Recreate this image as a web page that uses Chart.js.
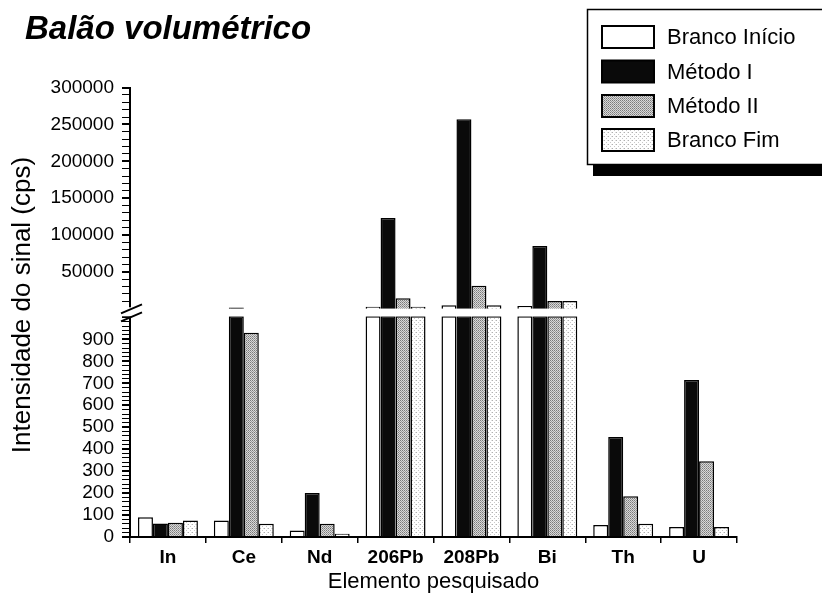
<!DOCTYPE html>
<html>
<head>
<meta charset="utf-8">
<script src="https://cdn.jsdelivr.net/npm/chart.js@4.4.0/dist/chart.umd.min.js"></script>
<style>
html, body { margin: 0; padding: 0; background: #fff; }
#wrap { width: 822px; height: 599px; }
</style>
</head>
<body>
<div id="wrap"><canvas id="chart"></canvas></div>
<script>
// valores (cps)
var categories = ['In', 'Ce', 'Nd', '206Pb', '208Pb', 'Bi', 'Th', 'U'];
var brancoInicio = [90, 75, 30, 2500, 4500, 3500, 55, 45];
var metodoI = [62, 1500, 200, 123000, 257000, 85000, 455, 715];
var metodoII = [65, 930, 60, 14000, 31000, 10500, 185, 345];
var brancoFim = [75, 60, 15, 2500, 4500, 10500, 60, 45];
var seriesNames = ['Branco Início', 'Método I', 'Método II', 'Branco Fim'];
var lowTicks = [0, 100, 200, 300, 400, 500, 600, 700, 800, 900];
var highTicks = [50000, 100000, 150000, 200000, 250000, 300000];

var lowMax = 1005;
var font = 'Liberation Sans';

function minorTicks(from, to, step) {
    var list = [];
    for (var v = from; v <= to; v += step) list.push({ value: v });
    return list;
}

function makePattern(size, bg, dots) {
    var c = document.createElement('canvas');
    c.width = size; c.height = size;
    var g = c.getContext('2d');
    g.fillStyle = bg;
    g.fillRect(0, 0, size, size);
    dots.forEach(function(d) {
        g.fillStyle = d[2];
        g.fillRect(d[0], d[1], 1, 1);
    });
    return g.createPattern(c, 'repeat');
}

var fills = [
    '#ffffff',
    '#0a0a0a',
    makePattern(2, '#d8d8d8', [[0, 0, '#7a7a7a'], [1, 1, '#9a9a9a']]),
    makePattern(4, '#ffffff', [[0, 0, '#b0b0b0'], [2, 2, '#c8c8c8'], [3, 0, '#e0e0e0']])
];
var values = [brancoInicio, metodoI, metodoII, brancoFim];

var datasets = [];
values.forEach(function(vals, i) {
    datasets.push({
        label: seriesNames[i],
        data: vals.map(function(v) { return Math.min(v, lowMax); }),
        yAxisID: 'yLow',
        stack: 's' + i,
        backgroundColor: fills[i],
        borderColor: '#000',
        borderWidth: 1.5
    });
});
values.forEach(function(vals, i) {
    datasets.push({
        label: seriesNames[i] + ' (alto)',
        data: vals.map(function(v) { return v > lowMax ? v : null; }),
        yAxisID: 'yHigh',
        stack: 's' + i,
        backgroundColor: fills[i],
        borderColor: '#000',
        borderWidth: 1.5
    });
});

var legendBox = {
    id: 'legendBox',
    afterDraw: function(chart) {
        var ctx = chart.ctx;
        ctx.save();
        ctx.fillStyle = '#000';
        ctx.fillRect(593, 165, 240, 11);
        ctx.fillStyle = '#fff';
        ctx.fillRect(587, 9, 250, 156);
        ctx.strokeStyle = '#000';
        ctx.lineWidth = 1.5;
        ctx.strokeRect(587.5, 9.5, 250, 155);
        var rows = [37, 71.5, 106, 140];
        chart.data.datasets.forEach(function(ds, i) {
            if (ds.yAxisID !== 'yLow') return;
            var y = rows[i];
            ctx.fillStyle = ds.backgroundColor;
            ctx.fillRect(602, y - 11, 52, 22);
            ctx.lineWidth = 2;
            ctx.strokeRect(602, y - 11, 52, 22);
            ctx.fillStyle = '#000';
            ctx.font = '22px "' + font + '"';
            ctx.textBaseline = 'middle';
            ctx.fillText(ds.label, 667, y + 1);
        });
        ctx.restore();
    }
};

var axisDecor = {
    id: 'axisDecor',
    afterDraw: function(chart) {
        var ctx = chart.ctx;
        var x = chart.chartArea.left;
        var yBreak = chart.scales.yLow.top;
        ctx.save();
        // quebra do eixo
        ctx.fillStyle = '#fff';
        ctx.fillRect(x - 9, yBreak - 9, 14, 9);
        ctx.strokeStyle = '#000';
        ctx.lineWidth = 2;
        ctx.beginPath();
        ctx.moveTo(x - 9, yBreak - 3);
        ctx.lineTo(x + 12, yBreak - 12);
        ctx.moveTo(x - 9, yBreak + 5);
        ctx.lineTo(x + 12, yBreak - 4);
        ctx.stroke();
        // título do eixo y
        ctx.translate(23, 305);
        ctx.rotate(-Math.PI / 2);
        ctx.fillStyle = '#000';
        ctx.font = '26px "' + font + '"';
        ctx.textAlign = 'center';
        ctx.textBaseline = 'middle';
        ctx.fillText('Intensidade do sinal (cps)', 0, 0);
        ctx.restore();
    }
};

function yTickCallback(list) {
    return function(value) {
        return list.indexOf(value) >= 0 ? String(value) : '';
    };
}

var ctx = document.getElementById('chart').getContext('2d');
new Chart(ctx, {
    type: 'bar',
    data: {
        labels: categories,
        datasets: datasets
    },
    options: {
        responsive: true,
        maintainAspectRatio: false,
        animation: false,
        categoryPercentage: 0.79,
        barPercentage: 1.0,
        layout: { padding: { left: 25, right: 85, top: 0, bottom: 0 } },
        plugins: {
            legend: { display: false },
            tooltip: { enabled: false },
            title: {
                display: true,
                text: 'Balão volumétrico',
                align: 'start',
                color: '#000',
                font: { family: font, size: 33, weight: 'bold', style: 'italic' },
                padding: { top: 10, bottom: 38 }
            }
        },
        scales: {
            x: {
                grid: {
                    display: true,
                    offset: true,
                    drawOnChartArea: false,
                    color: '#000',
                    lineWidth: 1.5,
                    tickLength: 6
                },
                border: { color: '#000', width: 2 },
                ticks: {
                    color: '#000',
                    padding: 3,
                    font: { family: font, size: 19, weight: 'bold' }
                },
                title: {
                    display: true,
                    text: 'Elemento pesquisado',
                    color: '#000',
                    font: { family: font, size: 22 },
                    padding: { top: 2, bottom: 4 }
                },
                afterFit: function(scale) { scale.height = 62; }
            },
            yLow: {
                type: 'linear',
                position: 'left',
                stack: 'y',
                stackWeight: 221,
                stacked: false,
                min: 0,
                max: lowMax,
                grid: {
                    drawOnChartArea: false,
                    color: '#000',
                    tickLength: 8,
                    lineWidth: function(c) { return c.tick && c.tick.value % 100 === 0 ? 2 : 1; }
                },
                border: { color: '#000', width: 2 },
                ticks: {
                    autoSkip: false,
                    color: '#000',
                    padding: 8,
                    font: { family: font, size: 19 },
                    callback: yTickCallback(lowTicks)
                },
                afterBuildTicks: function(scale) { scale.ticks = minorTicks(0, 1000, 20); },
                afterFit: function(scale) { scale.width = 105; }
            },
            yHigh: {
                type: 'linear',
                position: 'left',
                stack: 'y',
                stackWeight: 229,
                stacked: false,
                min: -10400,
                max: 300000,
                grid: {
                    drawOnChartArea: false,
                    color: '#000',
                    tickLength: 8,
                    lineWidth: function(c) { return c.tick && c.tick.value % 50000 === 0 ? 2 : 1; }
                },
                border: { color: '#000', width: 2 },
                ticks: {
                    autoSkip: false,
                    color: '#000',
                    padding: 8,
                    font: { family: font, size: 19 },
                    callback: yTickCallback(highTicks)
                },
                afterBuildTicks: function(scale) { scale.ticks = minorTicks(10000, 300000, 10000); },
                afterFit: function(scale) { scale.width = 105; }
            }
        }
    },
    plugins: [legendBox, axisDecor]
});
</script>
</body>
</html>
